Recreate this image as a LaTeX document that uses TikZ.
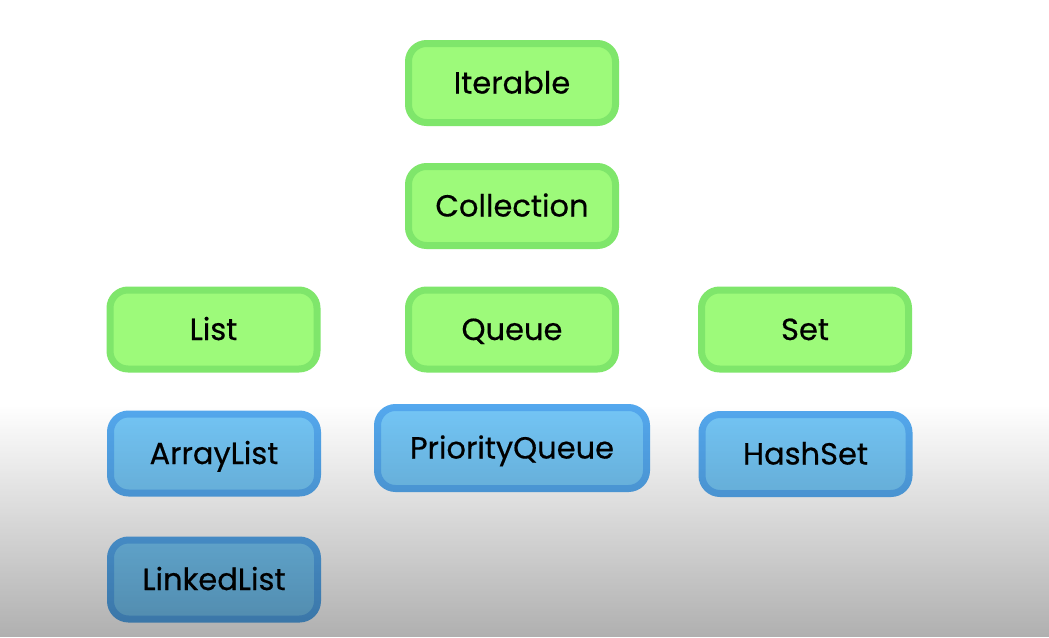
\documentclass[tikz,border=0pt]{standalone}
\usepackage{fontspec}
\setmainfont{Poppins}
\newfontfamily\boxfont{Poppins}[FakeBold=0.45]
\definecolor{ifacefill}{HTML}{9DFA7A}
\definecolor{ifaceline}{HTML}{7FE66B}
\definecolor{implfill}{HTML}{74C6F6}
\definecolor{implline}{HTML}{54A8EE}
\begin{document}
\begin{tikzpicture}[x=1pt,y=-1pt,
  box/.style={rounded corners=18pt, line width=7pt, minimum width=207pt,
    minimum height=79pt, inner sep=0pt, text=black,
    text height=21pt, text depth=0pt,
    font=\boxfont\fontsize{30.5}{36}\selectfont},
  iface/.style={box, fill=ifacefill, draw=ifaceline},
  impl/.style={box, fill=implfill, draw=implline}]
\useasboundingbox (0,0) rectangle (1049,637);
\fill[white] (0,0) rectangle (1049,637);

% interfaces
\node[iface] (iterable)   at (512,83)    {Iterable};
\node[iface] (collection) at (512,206)   {Collection};
\node[iface] (list)       at (213.5,329.5) {List};
\node[iface] (queue)      at (512,329.5) {Queue};
\node[iface] (set)        at (805,329.5) {Set};

% implementations
\node[impl] (arraylist)  at (214,453.5) {ArrayList};
\node[impl, minimum width=269pt, minimum height=81pt] (pqueue) at (512,448) {PriorityQueue};
\node[impl] (hashset)    at (805.5,454) {HashSet};
\node[impl] (linkedlist) at (214,579.5) {LinkedList};

% grey floor shading over the lower part
\foreach \i [evaluate=\i as \op using {0.31*(\i+0.5)/116}] in {0,...,115}
  \fill[black, fill opacity=\op] (0,{405+2*\i}) rectangle (1049,{407+2*\i});
\end{tikzpicture}
\end{document}
